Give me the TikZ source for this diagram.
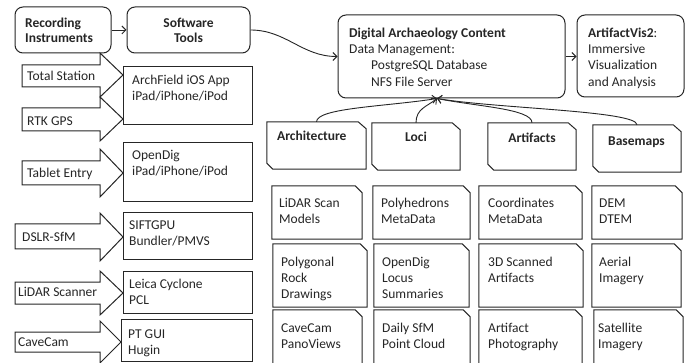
\documentclass[tikz,border=0pt]{standalone}
\usepackage{fontspec}
\setmainfont{Carlito}
\usetikzlibrary{arrows.meta}
\newcommand\myfs{\fontsize{13.5}{16.3}\selectfont}
\tikzset{
  ln/.style={draw=black!85, line width=1pt},
  sz/.style 2 args={minimum width=#1pt, minimum height=#2pt},
  box/.style={ln, rectangle, inner sep=0},
  rbox/.style={box, rounded corners=8pt},
  card/.style={rectangle, inner sep=0},
  tb/.style={inner sep=0, anchor=north west, yshift=11.41pt, align=left, font=\myfs, text=black!85},
  lab/.style={inner sep=0, anchor=base west, font=\myfs, text=black!85},
  blk/.style={ln, line join=miter, fill=white},
  con/.style={draw=black!85, line width=0.9pt, -{Straight Barb[length=4pt,width=8pt]}},
}
% outline with the top right corner cut
\newcommand\cardne[1]{\draw[ln, line join=miter] (#1.north west) -- ([xshift=-7pt]#1.north east) -- ([yshift=-7pt]#1.north east) -- (#1.south east) -- (#1.south west) -- cycle;}
% outline with top right and bottom left corners cut
\newcommand\cardcat[1]{\draw[ln, line join=miter] (#1.north west) -- ([xshift=-8pt]#1.north east) -- ([yshift=-7pt]#1.north east) -- (#1.south east) -- ([xshift=6pt]#1.south west) -- ([yshift=6pt]#1.south west) -- cycle;}
\begin{document}
\begin{tikzpicture}[x=1pt,y=-1pt]
\useasboundingbox[fill=white] (0,0) rectangle (693,363);

% top row
\node[rbox, sz={96}{46}] (rec) at (63,30) {};
\node[rbox, sz={123}{46}] (sw) at (188.5,30) {};
\node[rbox, sz={227}{83}] (dac) at (451.5,56.5) {};
\node[rbox, sz={107}{82}] (av) at (630.5,56) {};

\node[tb] (t-rec) at (25,27) {\strut\textbf{Recording}\\[-1.3pt]\textbf{Instruments}};
\node[tb, anchor=north, align=center] (t-sw) at (188.5,27) {\strut\textbf{Software}\\[-1.3pt]\textbf{Tools}};
\node[tb] (t-dac) at (349,37) {\strut\textbf{Digital Archaeology Content}\\Data Management:\\\hspace*{22pt}PostgreSQL Database\\\hspace*{22pt}NFS File Server};
\node[tb] (t-av) at (588,37) {\strut\textbf{ArtifactVis2}:\\Immersive\\Visualization\\and Analysis};

\draw[con] (rec) -- (sw);
\draw[con] (sw.east) to[out=0,in=180] (dac.west);
\draw[con] (dac.east) -- (av.west |- dac.east);

% software boxes
\node[box, sz={129}{58}] (s1) at (187.5,96) {};
\node[box, sz={129}{59}] (s2) at (187.5,172.5) {};
\node[box, sz={129}{47}] (s3) at (187.5,236.5) {};
\node[box, sz={129}{41}] (s4) at (187.5,292.5) {};
\node[box, sz={131}{42}] (s5) at (186.5,340) {};

\node[tb] (t-s1) at (132,84) {\strut ArchField iOS App\\iPad/iPhone/iPod};
\node[tb] (t-s2) at (132,159) {\strut OpenDig\\iPad/iPhone/iPod};
\node[tb] (t-s3) at (129,229) {\strut SIFTGPU\\Bundler/PMVS};
\node[tb] (t-s4) at (129,288) {\strut Leica Cyclone\\PCL};
\node[tb] (t-s5) at (128,338) {\strut PT GUI\\Hugin};

% instrument block arrows
\draw[blk] (22,65) -- (100,65) -- (100,53) -- (123,75) -- (100,97) -- (100,87) -- (22,87) -- cycle;
\draw[blk] (22,108) -- (100,108) -- (100,97) -- (123,119) -- (100,141) -- (100,131) -- (22,131) -- cycle;
\draw[blk] (22,161) -- (100,161) -- (100,149) -- (123,173) -- (100,197) -- (100,185) -- (22,185) -- cycle;
\draw[blk] (15,224) -- (100,224) -- (100,213) -- (123,237) -- (100,261) -- (100,249) -- (15,249) -- cycle;
\draw[blk] (15,282) -- (100,282) -- (100,271) -- (123,293) -- (100,315) -- (100,304) -- (15,304) -- cycle;
\draw[blk] (15,332) -- (100,332) -- (100,321) -- (121,342) -- (100,363) -- (100,352) -- (15,352) -- cycle;

\node[lab] (i1) at (27,81) {Total Station};
\node[lab] (i2) at (27,126) {RTK GPS};
\node[lab] (i3) at (27,178) {Tablet Entry};
\node[lab] (i4) at (22,242) {DSLR-SfM};
\node[lab] (i5) at (18,297) {LiDAR Scanner};
\node[lab] (i6) at (18,346) {CaveCam};

% category boxes
\node[card, sz={99}{47}] (arch) at (316.5,145.5) {};
\node[card, sz={88}{47}] (loci) at (416,146.5) {};
\node[card, sz={88}{47}] (artf) at (532,146.5) {};
\node[card, sz={88}{47}] (base) at (637,148.5) {};
\cardcat{arch}\cardcat{loci}\cardcat{artf}\cardcat{base}

\node[lab] (t-arch) at (277,141) {\textbf{Architecture}};
\node[lab, anchor=base] (t-loci) at (416,142) {\textbf{Loci}};
\node[lab, anchor=base] (t-artf) at (532,143) {\textbf{Artifacts}};
\node[lab, anchor=base] (t-base) at (636.5,146) {\textbf{Basemaps}};

\coordinate (dacin) at ([xshift=-14.5pt]dac.south);
\draw[con] (arch.north) .. controls +(0,-14) and +(-50,8) .. (dacin);
\draw[con] (loci.north) .. controls +(0,-14) and +(-10,8) .. (dacin);
\draw[con] (artf.north) .. controls +(0,-14) and +(40,8) .. (dacin);
\draw[con] (base.north) .. controls +(0,-14) and +(60,10) .. (dacin);

% detail cards row 1
\node[card, sz={90}{53}] (d11) at (317,212.5) {};
\node[card, sz={97}{53}] (d12) at (421.5,212.5) {};
\node[card, sz={103}{53}] (d13) at (530.5,212.5) {};
\node[card, sz={90}{53}] (d14) at (637,212.5) {};
\cardne{d11}\cardne{d12}\cardne{d13}\cardne{d14}
\node[tb] (t11) at (279,207) {\strut LiDAR Scan\\Models};
\node[tb] (t12) at (381,207) {\strut Polyhedrons\\MetaData};
\node[tb] (t13) at (488,207) {\strut Coordinates\\MetaData};
\node[tb] (t14) at (599,207) {\strut DEM\\DTEM};

% row 2
\node[card, sz={94}{63}] (d21) at (320,275.5) {};
\node[card, sz={95}{63}] (d22) at (421.5,275.5) {};
\node[card, sz={104}{63}] (d23) at (531,275.5) {};
\node[card, sz={89}{63}] (d24) at (636.5,275.5) {};
\cardne{d21}\cardne{d22}\cardne{d23}\cardne{d24}
\node[tb] (t21) at (281,266) {\strut Polygonal\\Rock\\Drawings};
\node[tb] (t22) at (382,266) {\strut OpenDig\\Locus\\Summaries};
\node[tb] (t23) at (488,266) {\strut 3D Scanned\\Artifacts};
\node[tb] (t24) at (599,266) {\strut Aerial\\Imagery};

% row 3
\node[card, sz={89}{56}] (d31) at (317.5,338) {};
\node[card, sz={96}{56}] (d32) at (422,338) {};
\node[card, sz={103}{56}] (d33) at (530.5,338) {};
\node[card, sz={89}{56}] (d34) at (638.5,338) {};
\cardne{d31}\cardne{d32}\cardne{d33}\cardne{d34}
\node[tb] (t31) at (281,332) {\strut CaveCam\\PanoViews};
\node[tb] (t32) at (382,332) {\strut Daily SfM\\Point Cloud};
\node[tb] (t33) at (488,332) {\strut Artifact\\Photography};
\node[tb] (t34) at (598,332) {\strut Satellite\\Imagery};
\end{tikzpicture}
\end{document}
